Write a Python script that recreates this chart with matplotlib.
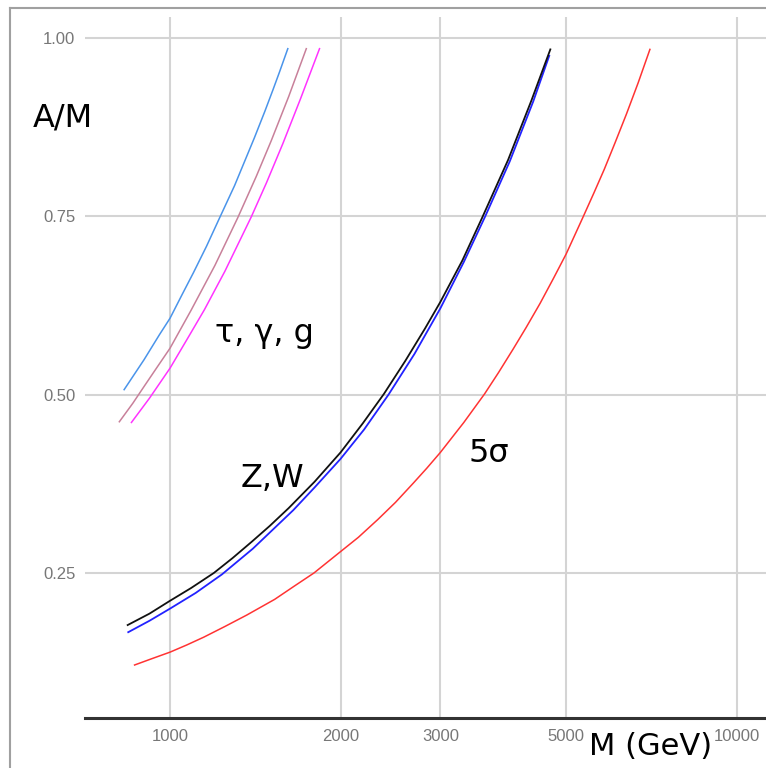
import matplotlib
matplotlib.use("Agg")
import matplotlib.pyplot as plt
from matplotlib.lines import Line2D
from matplotlib.ticker import FixedLocator, FixedFormatter, NullLocator

# ---- data ----
tau_M = [830, 900, 958, 1000, 1050, 1100, 1160, 1222, 1300, 1409, 1470, 1519, 1560, 1614]
tau_A = [0.507, 0.549, 0.584, 0.607, 0.640, 0.671, 0.708, 0.747, 0.793, 0.860, 0.897, 0.927, 0.952, 0.985]

gamma_M = [814, 860, 901, 950, 1000, 1089, 1200, 1317, 1420, 1509, 1620, 1740]
gamma_A = [0.462, 0.488, 0.512, 0.539, 0.565, 0.618, 0.681, 0.748, 0.806, 0.856, 0.918, 0.985]

g_M = [855, 920, 1000, 1080, 1150, 1250, 1391, 1480, 1582, 1700, 1836]
g_A = [0.461, 0.495, 0.537, 0.582, 0.619, 0.673, 0.749, 0.797, 0.852, 0.915, 0.985]

z_M = [842, 920, 1000, 1090, 1195, 1290, 1395, 1500, 1620, 1800, 2000, 2190, 2385, 2600,
       2820, 3000, 3280, 3555, 3950, 4346, 4690]
z_A = [0.177, 0.193, 0.211, 0.229, 0.250, 0.271, 0.294, 0.316, 0.341, 0.378, 0.419, 0.460,
       0.501, 0.547, 0.593, 0.630, 0.688, 0.748, 0.829, 0.913, 0.984]

w_M = [844, 920, 1000, 1110, 1235, 1400, 1650, 1800, 2000, 2200, 2430, 2700, 3000, 3300,
       3600, 3977, 4375, 4669]
w_A = [0.167, 0.183, 0.200, 0.222, 0.248, 0.284, 0.338, 0.370, 0.410, 0.451, 0.500, 0.557,
       0.621, 0.686, 0.750, 0.827, 0.911, 0.975]

sig_M = [866, 930, 1000, 1070, 1147, 1250, 1366, 1530, 1660, 1795, 2000, 2150, 2327, 2500,
         2688, 2840, 3000, 3300, 3590, 3800, 4033, 4250, 4499, 4750, 5000, 5350, 5600, 5840,
         6100, 6387, 6700, 7029]
sig_A = [0.121, 0.130, 0.139, 0.149, 0.160, 0.175, 0.191, 0.213, 0.232, 0.250, 0.280, 0.300,
         0.325, 0.349, 0.376, 0.397, 0.419, 0.461, 0.501, 0.531, 0.564, 0.594, 0.628, 0.663,
         0.697, 0.748, 0.783, 0.816, 0.853, 0.893, 0.937, 0.984]

x_ticks = [1000, 2000, 3000, 5000, 10000]
x_tick_labels = ["1000", "2000", "3000", "5000", "10000"]
y_ticks = [0.25, 0.50, 0.75, 1.00]
y_tick_labels = ["0.25", "0.50", "0.75", "1.00"]

W, H = 766, 768
fig = plt.figure(figsize=(W / 100, H / 100), dpi=100)

def fx(px):
    return px / W

def fy(py):
    return 1 - py / H

left, right, top, bottom = 85, 766, 17, 718
ax = fig.add_axes([fx(left), fy(bottom), fx(right - left), (bottom - top) / H])

ax.set_xscale("log")
ax.set_xlim(708, 11265)
ax.set_ylim(0.0467, 1.0294)

ax.plot(tau_M, tau_A, color="#4a94ea", lw=1.1)
ax.plot(gamma_M, gamma_A, color="#c8809a", lw=1.1)
ax.plot(g_M, g_A, color="#ff33ff", lw=1.1)
ax.plot(w_M, w_A, color="#2222ff", lw=1.3)
ax.plot(z_M, z_A, color="#111111", lw=1.3)
ax.plot(sig_M, sig_A, color="#ff3333", lw=1.1)

ax.xaxis.set_major_locator(FixedLocator(x_ticks))
ax.xaxis.set_major_formatter(FixedFormatter(x_tick_labels))
ax.xaxis.set_minor_locator(NullLocator())
ax.yaxis.set_major_locator(FixedLocator(y_ticks))
ax.yaxis.set_major_formatter(FixedFormatter(y_tick_labels))
ax.yaxis.set_minor_locator(NullLocator())

ax.grid(True, color="#d4d4d4", lw=1.5, zorder=0)
ax.set_axisbelow(True)
for s in ["left", "right", "top"]:
    ax.spines[s].set_visible(False)
ax.spines["bottom"].set_color("#333333")
ax.spines["bottom"].set_linewidth(2.2)
ax.tick_params(axis="both", length=0, labelsize=12, labelcolor="#777777")
ax.tick_params(axis="x", pad=8)
ax.tick_params(axis="y", pad=7)
for lab in ax.get_xticklabels() + ax.get_yticklabels():
    lab.set_family(["Liberation Sans", "DejaVu Sans"])

# outer frame (left and top edges visible)
fig.add_artist(Line2D([fx(10), fx(10)], [fy(8), 0], color="#a0a0a0", lw=1.5))
fig.add_artist(Line2D([fx(10), 1], [fy(8), fy(8)], color="#a0a0a0", lw=1.5))

big = dict(family=["DejaVu Sans"], fontsize=23, color="black")
fig.text(fx(33), fy(127), "A/M", ha="left", va="baseline", **big)
fig.text(fx(215), fy(342), "τ, γ, g", ha="left", va="baseline", **big)
fig.text(fx(241), fy(487), "Z,W", ha="left", va="baseline", **big)
fig.text(fx(468), fy(462), "5σ", ha="left", va="baseline", **big)
fig.text(fx(589), fy(755), "M (GeV)", ha="left", va="baseline",
         family=["DejaVu Sans"], fontsize=22, color="black")

fig.savefig("out.png", dpi=100)
